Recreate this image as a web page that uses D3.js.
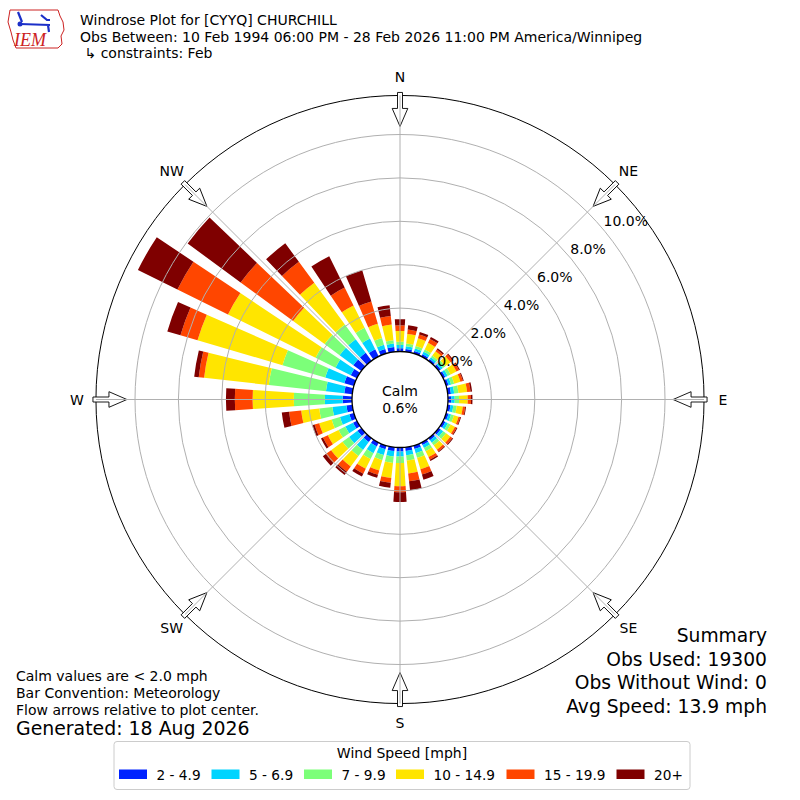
<!DOCTYPE html>
<html>
<head>
<meta charset="utf-8">
<script src="https://cdn.jsdelivr.net/npm/d3@7"></script>
<style>
  body { margin: 0; background: #fff; }
  svg { display: block; font-family: "DejaVu Sans", sans-serif; }
</style>
</head>
<body>
<div id="chart"></div>
<script>
// direction bins (degrees, meteorological "from")
var directions = [0, 10, 20, 30, 40, 50, 60, 70, 80, 90, 100, 110, 120, 130, 140, 150, 160, 170,
                  180, 190, 200, 210, 220, 230, 240, 250, 260, 270, 280, 290, 300, 310, 320, 330, 340, 350];

// percent of obs per speed class, one value per direction
var spd2to5   = [.15,.13,.12,.12,.10,.12,.12,.12,.15,.15,.13,.12,.12,.12,.12,.13,.17,.17,
                 .19,.18,.18,.20,.22,.22,.20,.22,.27,.43,.37,.46,.32,.46,.46,.37,.21,.22];
var spd5to7   = [.15,.13,.12,.12,.10,.12,.12,.12,.15,.16,.13,.12,.13,.14,.14,.15,.20,.20,
                 .23,.25,.27,.35,.45,.48,.40,.45,.65,.82,.85,.92,.78,.78,.78,.55,.21,.16];
var spd7to10  = [.15,.12,.12,.12,.10,.14,.15,.15,.20,.20,.16,.14,.14,.16,.15,.17,.22,.25,
                 .30,.30,.25,.30,.35,.38,.35,.40,.61,1.43,2.65,2.05,1.03,.86,.84,.55,.32,.16];
var spd10to15 = [.50,.45,.37,.34,.25,.30,.30,.30,.40,.40,.28,.22,.22,.25,.25,.30,.55,.60,
                 1.06,.70,.50,.50,.60,.65,.55,.60,.84,1.90,3.00,4.08,4.50,1.80,2.38,1.15,.69,.72];
var spd15to20 = [.26,.20,.18,.20,.10,.12,.13,.12,.16,.15,.11,.08,.09,.11,.10,.13,.25,.36,
                 .28,.22,.20,.25,.30,.30,.25,.22,.56,.82,.25,.82,2.60,3.00,1.20,.92,1.06,.40];
var spd20plus = [.28,.20,.12,.10,.07,.05,.05,.04,.07,.07,.04,.04,.04,.05,.04,.07,.25,.42,
                 .45,.23,.15,.15,.18,.17,.10,.11,.34,.41,.21,.63,2.03,3.03,1.06,1.61,1.50,.50];

var speedLabels = ["2 - 4.9", "5 - 6.9", "7 - 9.9", "10 - 14.9", "15 - 19.9", "20+"];
var speedColors = ["#0022ff", "#00d4ff", "#7cff79", "#ffe500", "#ff4600", "#7f0000"];

var rTicks = [0, 2, 4, 6, 8, 10];
var compassLabels = ["N", "NE", "E", "SE", "S", "SW", "W", "NW"];
var compassAngles = [0, 45, 90, 135, 180, 225, 270, 315];

var calmPct = 0.6;
var titleLines = ["Windrose Plot for [CYYQ] CHURCHILL",
                  "Obs Between: 10 Feb 1994 06:00 PM - 28 Feb 2026 11:00 PM America/Winnipeg",
                  " \u21b3 constraints: Feb"];
var noteLines = ["Calm values are < 2.0 mph", "Bar Convention: Meteorology", "Flow arrows relative to plot center."];
var generated = "Generated: 18 Aug 2026";
var summaryLines = ["Summary", "Obs Used: 19300", "Obs Without Wind: 0", "Avg Speed: 13.9 mph"];

var width = 800, height = 800,
    cx = 400, cy = 399.5;

var svg = d3.select("#chart").append("svg")
    .attr("width", width)
    .attr("height", height);

var keys = ["a", "b", "c", "d", "e", "f"];
var series = [spd2to5, spd5to7, spd7to10, spd10to15, spd15to20, spd20plus];
var table = directions.map(function(d, i) {
  var row = {dir: d};
  keys.forEach(function(k, j) { row[k] = series[j][i]; });
  return row;
});

var stacked = d3.stack().keys(keys)(table);

var r = d3.scaleLinear().domain([0, 10]).range([48, 265]);
var rMax = 11.8;
var halfWidth = 3.7 * Math.PI / 180;
var rad = Math.PI / 180;

var plot = svg.append("g").attr("transform", "translate(" + cx + "," + cy + ")");

var arc = d3.arc()
    .innerRadius(function(d) { return r(d[0]); })
    .outerRadius(function(d) { return r(d[1]); })
    .startAngle(function(d) { return d.data.dir * rad - halfWidth; })
    .endAngle(function(d) { return d.data.dir * rad + halfWidth; });

plot.selectAll(".layer")
    .data(stacked)
  .enter().append("g")
    .attr("class", "layer")
    .attr("fill", function(d, i) { return speedColors[i]; })
  .selectAll("path")
    .data(function(d) { return d; })
  .enter().append("path")
    .attr("d", arc);

// outer frame
plot.append("circle")
    .attr("r", r(rMax))
    .attr("fill", "none")
    .attr("stroke", "#000")
    .attr("stroke-width", 1);

// flow arrows pointing to the center
var rOut = r(rMax);
var arrowPts = [[-2.5, -(rOut + 3)], [2.5, -(rOut + 3)], [2.5, -(rOut - 13)], [7.8, -(rOut - 13)],
                [0, -(rOut - 31)], [-7.8, -(rOut - 13)], [-2.5, -(rOut - 13)]];
plot.selectAll(".arrow")
    .data(compassAngles)
  .enter().append("path")
    .attr("class", "arrow")
    .attr("transform", function(d) { return "rotate(" + d + ")"; })
    .attr("d", "M" + arrowPts.join("L") + "Z")
    .attr("fill", "#fff")
    .attr("stroke", "#000")
    .attr("stroke-width", 0.9);

// grid rings and spokes on top of bars
plot.selectAll(".ring")
    .data(rTicks.slice(1))
  .enter().append("circle")
    .attr("class", "ring")
    .attr("r", function(d) { return r(d); })
    .attr("fill", "none")
    .attr("stroke", "#b0b0b0")
    .attr("stroke-width", 1);

plot.selectAll(".spoke")
    .data(compassAngles)
  .enter().append("line")
    .attr("class", "spoke")
    .attr("x1", function(d) { return r(0) * Math.sin(d * rad); })
    .attr("y1", function(d) { return -r(0) * Math.cos(d * rad); })
    .attr("x2", function(d) { return rOut * Math.sin(d * rad); })
    .attr("y2", function(d) { return -rOut * Math.cos(d * rad); })
    .attr("stroke", "#b0b0b0")
    .attr("stroke-width", 1);

// calm circle
plot.append("circle")
    .attr("r", r(0))
    .attr("fill", "#fff")
    .attr("stroke", "#000")
    .attr("stroke-width", 1.3);

plot.append("text")
    .attr("text-anchor", "middle")
    .attr("y", -4)
    .attr("font-size", "14px")
    .text("Calm");
plot.append("text")
    .attr("text-anchor", "middle")
    .attr("y", 13)
    .attr("font-size", "14px")
    .text(calmPct.toFixed(1) + "%");

// radial tick labels
var labAng = 40 * rad;
plot.selectAll(".rlabel")
    .data(rTicks)
  .enter().append("text")
    .attr("class", "rlabel")
    .attr("x", function(d) { return r(d) * Math.cos(labAng) + 0.5; })
    .attr("y", function(d) { return -r(d) * Math.sin(labAng) - 3; })
    .attr("font-size", "14px")
    .text(function(d) { return d.toFixed(1) + "%"; });

// compass labels
plot.selectAll(".clabel")
    .data(compassAngles)
  .enter().append("text")
    .attr("class", "clabel")
    .attr("text-anchor", "middle")
    .attr("x", function(d) { return 323 * Math.sin(d * rad); })
    .attr("y", function(d) { return -323 * Math.cos(d * rad) + 5; })
    .attr("font-size", "14px")
    .text(function(d, i) { return compassLabels[i]; });

// title block
svg.selectAll(".title")
    .data(titleLines)
  .enter().append("text")
    .attr("class", "title")
    .attr("x", 80)
    .attr("y", function(d, i) { return 25 + i * 16.6; })
    .attr("font-size", "14px")
    .style("white-space", "pre")
    .text(function(d) { return d; });

// IEM logo
var logo = svg.append("g");
logo.append("path")
    .attr("d", "M10,10 L58,10 L60,16 L63,22 L64,30 L61,36 L62,44 L58,48 L16,48 L13,40 L11,32 L8,22 Z")
    .attr("fill", "none")
    .attr("stroke", "#cc2222")
    .attr("stroke-width", 1);
logo.append("path")
    .attr("d", "M20,24 L50,25 M18,12 L22,22 M41,15 L47,20 L50,20 M48,25 L49,32")
    .attr("fill", "none")
    .attr("stroke", "#1b2fc8")
    .attr("stroke-width", 2.2);
logo.append("circle").attr("cx", 20).attr("cy", 24).attr("r", 2.5).attr("fill", "#1b2fc8");
logo.append("text")
    .attr("x", 14).attr("y", 46)
    .attr("font-family", "Liberation Serif, serif")
    .attr("font-style", "italic")
    .attr("font-size", "18px")
    .attr("fill", "#cc2222")
    .text("IEM");

// notes bottom-left
svg.selectAll(".note")
    .data(noteLines)
  .enter().append("text")
    .attr("class", "note")
    .attr("x", 16)
    .attr("y", function(d, i) { return 681 + i * 17; })
    .attr("font-size", "14px")
    .text(function(d) { return d; });
svg.append("text")
    .attr("x", 16).attr("y", 735)
    .attr("font-size", "18.9px")
    .text(generated);

// summary bottom-right
svg.selectAll(".summary")
    .data(summaryLines)
  .enter().append("text")
    .attr("class", "summary")
    .attr("text-anchor", "end")
    .attr("x", 767)
    .attr("y", function(d, i) { return 642 + i * 23.5; })
    .attr("font-size", "18.7px")
    .text(function(d) { return d; });

// legend
var legend = svg.append("g");
legend.append("rect")
    .attr("x", 114).attr("y", 741.5)
    .attr("width", 576).attr("height", 48)
    .attr("rx", 3)
    .attr("fill", "#fff")
    .attr("stroke", "#cccccc");
legend.append("text")
    .attr("x", 402).attr("y", 757.5)
    .attr("text-anchor", "middle")
    .attr("font-size", "14px")
    .text("Wind Speed [mph]");

var legX = [119, 211.5, 304, 396, 506.5, 616.5];
var item = legend.selectAll(".item")
    .data(speedLabels)
  .enter().append("g")
    .attr("class", "item")
    .attr("transform", function(d, i) { return "translate(" + legX[i] + ",769.5)"; });
item.append("rect")
    .attr("width", 28).attr("height", 9.5)
    .attr("fill", function(d, i) { return speedColors[i]; });
item.append("text")
    .attr("x", 37.5).attr("y", 10)
    .attr("font-size", "13.7px")
    .text(function(d) { return d; });
</script>
</body>
</html>
